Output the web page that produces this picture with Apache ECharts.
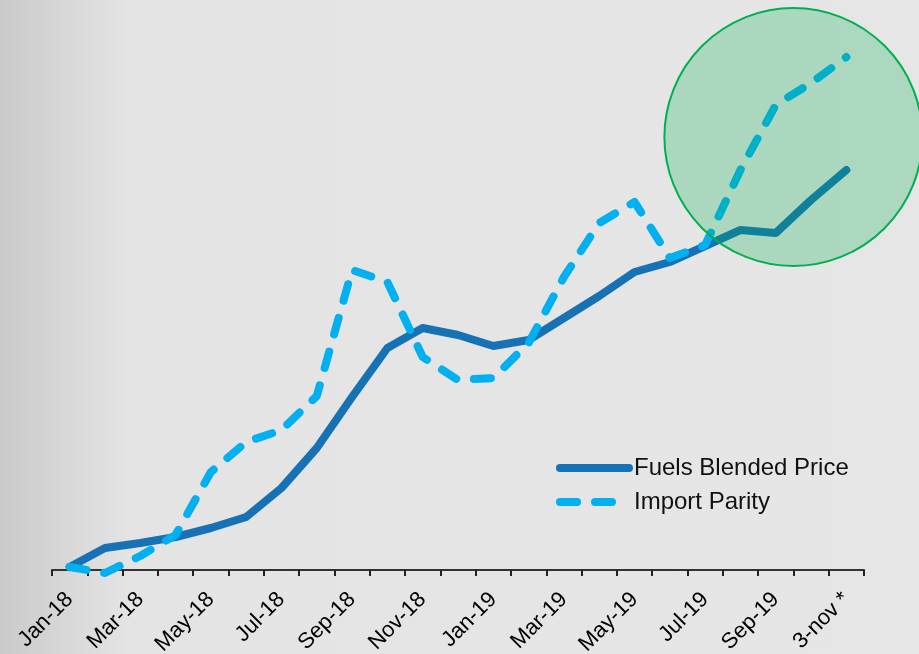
<!DOCTYPE html>
<html>
<head>
<meta charset="utf-8">
<script src="https://cdn.jsdelivr.net/npm/echarts@6/dist/echarts.min.js"></script>
<style>
html,body{margin:0;padding:0;}
#chart{width:919px;height:654px;}
</style>
</head>
<body>
<div id="chart"></div>
<script>
var categories = ['Jan-18','Feb-18','Mar-18','Apr-18','May-18','Jun-18','Jul-18','Aug-18','Sep-18','Oct-18','Nov-18','Dec-18',
  'Jan-19','Feb-19','Mar-19','Apr-19','May-19','Jun-19','Jul-19','Aug-19','Sep-19','Oct-19','3-nov *'];
var fuelsBlendedPrice = [0.3, 2.2, 2.7, 3.3, 4.2, 5.3, 8.2, 12.2, 17.3, 22.2, 24.2, 23.5, 22.4, 23.0, 25.2, 27.4, 29.8, 30.8, 32.4, 34.0, 33.7, 37.0, 40.0];
var importParity = [0.3, -0.3, 1.4, 3.5, 9.8, 12.8, 14.0, 17.4, 30.0, 28.8, 21.3, 19.0, 19.2, 22.7, 29.3, 34.7, 36.8, 31.2, 32.5, 40.0, 46.5, 48.7, 51.3];
var seriesNames = ['Fuels Blended Price', 'Import Parity'];
// highlight circle annotation (in data terms: category position, value)
var highlightCenter = [20.5, 43.3];

var chart = echarts.init(document.getElementById('chart'));
var option = {
  animation: false,
  backgroundColor: {
    type: 'linear', x: 0, y: 0, x2: 1, y2: 0,
    colorStops: [
      {offset: 0, color: '#cacaca'},
      {offset: 0.14, color: '#e4e4e4'},
      {offset: 1, color: '#e6e6e6'}
    ]
  },
  grid: {left: 52, right: 55, top: 40, bottom: 64, containLabel: false, outerBoundsMode: 'none'},
  legend: {
    orient: 'vertical',
    left: 556, top: 456, padding: 0,
    itemWidth: 69, itemHeight: 10, itemGap: 10,
    itemStyle: {opacity: 0},
    lineStyle: {width: 8, cap: 'round'},
    textStyle: {fontFamily: 'Liberation Sans, Arial, sans-serif', fontSize: 24, color: '#111'},
    data: seriesNames
  },
  xAxis: {
    type: 'category',
    data: categories,
    boundaryGap: true,
    axisLine: {onZero: true, lineStyle: {color: '#333', width: 2}},
    axisTick: {show: true, interval: 0, length: 6, lineStyle: {color: '#222', width: 2}},
    axisLabel: {
      interval: 1, rotate: 45, margin: 6,
      fontFamily: 'Liberation Sans, Arial, sans-serif', fontSize: 22, color: '#000'
    },
    splitLine: {show: false}
  },
  yAxis: {
    type: 'value', min: -2, max: 53,
    show: false,
    splitLine: {show: false}
  },
  series: [
    {
      name: seriesNames[0], type: 'line', data: fuelsBlendedPrice,
      symbol: 'none', z: 2,
      itemStyle: {color: '#1672b4'},
      lineStyle: {color: '#1672b4', width: 8, cap: 'round', join: 'round'}
    },
    {
      name: seriesNames[1], type: 'line', data: importParity,
      symbol: 'none', z: 3,
      itemStyle: {color: '#00b0f0'},
      lineStyle: {color: '#00b0f0', width: 8, type: [17, 18], cap: 'round', join: 'round'}
    }
  ]
};
chart.setOption(option);

var c0 = chart.convertToPixel({xAxisIndex: 0, yAxisIndex: 0}, [Math.floor(highlightCenter[0]), highlightCenter[1]]);
var c1 = chart.convertToPixel({xAxisIndex: 0, yAxisIndex: 0}, [Math.ceil(highlightCenter[0]), highlightCenter[1]]);
var frac = highlightCenter[0] - Math.floor(highlightCenter[0]);
var cx = c0[0] + (c1[0] - c0[0]) * frac;
var cy = c0[1];
chart.setOption({
  graphic: [{
    type: 'circle', z: 100,
    shape: {cx: cx, cy: cy, r: 129},
    style: {fill: 'rgba(0,176,80,0.25)', stroke: '#00b050', lineWidth: 2}
  }]
});
</script>
</body>
</html>
